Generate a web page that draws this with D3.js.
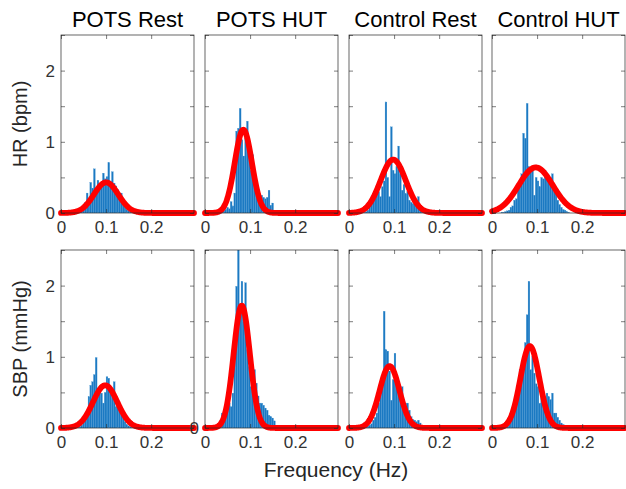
<!DOCTYPE html>
<html>
<head>
<meta charset="utf-8">
<script src="https://cdn.jsdelivr.net/npm/d3@7"></script>
<style>
  body { margin: 0; background: #fff; }
  text { font-family: "Liberation Sans", Arial, sans-serif; }
</style>
</head>
<body>
<script>
// Dados
const conditions = ["POTS Rest", "POTS HUT", "Control Rest", "Control HUT"];
const measures = ["HR (bpm)", "SBP (mmHg)"];
const xTicks = [0, 0.1, 0.2];
const yTicks = [0, 0.5, 1, 1.5, 2, 2.5];
const yTickLabels = [0, 1, 2];

// histogramas: primeira classe em 0.020 Hz, largura 0.004 Hz
const binStart = 0.02;
const binWidth = 0.004;

const hrPotsRest = [0.01,0.01,0.01,0.02,0.02,0.03,0.05,0.08,0.15,0.28,0.2,0.43,0.35,0.62,0.3,0.46,0.38,0.42,0.56,0.48,0.51,0.71,0.45,0.58,0.42,0.38,0.33,0.22,0.28,0.18,0.1,0.05,0.03,0.02,0.01,0.01,0,0,0,0];
const hrPotsHut = [0.01,0.02,0.02,0.02,0.03,0.03,0.05,0.08,0.06,0.16,0.1,0.28,1.15,1.19,1.47,1.03,0.8,1.05,1.29,0.82,0.6,0.82,0.46,0.38,0.32,0.23,0.25,0.22,0.2,0.22,0.32,0.11,0.14,0.04,0.02,0.01,0,0,0,0];
const hrControlRest = [0,0,0.01,0.01,0.02,0.04,0.1,0.18,0.27,0.2,0.39,0.3,0.23,0.37,0.45,1.56,0.5,0.23,1.21,0.6,0.55,0.65,0.94,0.55,0.32,0.4,0.27,0.3,0.18,0.15,0.13,0.12,0.18,0.23,0.11,0.02,0.01,0,0,0];
const hrControlHut = [0.01,0.01,0.02,0.03,0.04,0.08,0.1,0.18,0.2,0.37,0.42,0.55,1.12,1.05,1.54,0.65,0.58,0.6,0.25,0.5,0.45,0.37,0.5,0.48,0.6,0.55,0.46,0.5,0.55,0.3,0.27,0.18,0.12,0.08,0.05,0.04,0.02,0.01,0,0];
const sbpPotsRest = [0,0,0.01,0.01,0.01,0.02,0.04,0.09,0.12,0.16,0.44,0.6,0.65,0.75,0.99,0.44,0.52,0.49,0.35,0.5,0.72,0.7,0.53,0.48,0.65,0.3,0.38,0.35,0.25,0.15,0.09,0.05,0.03,0.02,0.01,0,0,0,0,0];
const sbpPotsHut = [0.04,0.03,0.05,0.1,0.21,0.16,0.3,0.25,0.35,0.3,0.49,1.2,1.99,2.6,1.6,2.06,1.5,2.04,1.1,0.86,0.58,0.49,0.82,0.63,0.45,0.35,0.35,0.32,0.28,0.25,0.18,0.16,0.14,0.1,0.04,0.02,0,0,0,0];
const sbpControlRest = [0,0,0.01,0.01,0.02,0.03,0.04,0.06,0.11,0.15,0.21,0.35,0.63,0.7,1.64,1.1,1.08,0.8,0.39,0.68,1.05,0.63,0.5,0.44,0.58,0.4,0.35,0.35,0.25,0.16,0.12,0.11,0.09,0.11,0.07,0.03,0.01,0,0,0];
const sbpControlHut = [0.01,0.01,0.02,0.03,0.05,0.1,0.16,0.3,0.38,0.54,0.82,0.84,0.98,1.2,1.59,2.06,0.82,1.0,0.77,0.62,0.58,0.35,0.49,0.35,0.42,0.49,0.44,0.4,0.49,0.21,0.21,0.15,0.11,0.07,0.05,0.02,0.01,0,0,0];

// ajuste gaussiano (média, desvio, pico) por painel
const hrFitMean = [0.100, 0.085, 0.098, 0.097];
const hrFitSd = [0.027, 0.019, 0.028, 0.038];
const hrFitPeak = [0.43, 1.17, 0.75, 0.64];
const sbpFitMean = [0.098, 0.0815, 0.090, 0.084];
const sbpFitSd = [0.027, 0.018, 0.022, 0.021];
const sbpFitPeak = [0.60, 1.72, 0.87, 1.15];

const histograms = [
  [hrPotsRest, hrPotsHut, hrControlRest, hrControlHut],
  [sbpPotsRest, sbpPotsHut, sbpControlRest, sbpControlHut]
];
const fits = [
  { mean: hrFitMean, sd: hrFitSd, peak: hrFitPeak },
  { mean: sbpFitMean, sd: sbpFitSd, peak: sbpFitPeak }
];

// Layout
const width = 626;
const height = 489;
const colLeft = [61, 205, 349, 492];
const rowTop = [35, 250];
const panelW = 133;
const panelH = 178;
const axisColor = "#262626";

const svg = d3.select("body")
  .append("svg")
  .attr("width", width)
  .attr("height", height);

const x = d3.scaleLinear().domain([0, 0.295]).range([0, panelW]);
const y = d3.scaleLinear().domain([0, 2.5]).range([panelH, 0]);

svg.append("defs")
  .append("clipPath")
  .attr("id", "clip-panel")
  .append("rect")
  .attr("width", panelW)
  .attr("height", panelH);

const curveX = d3.range(0, 0.2951, 0.001);

const line = d3.line()
  .x(d => x(d[0]))
  .y(d => y(d[1]));

measures.forEach((measure, r) => {
  conditions.forEach((cond, c) => {
    const g = svg.append("g")
      .attr("transform", `translate(${colLeft[c]},${rowTop[r]})`);

    const values = histograms[r][c];
    const bins = values.map((v, i) => ({ x0: binStart + i * binWidth, v: v }));

    // barras
    g.append("g")
      .attr("clip-path", "url(#clip-panel)")
      .selectAll("rect")
      .data(bins)
      .join("rect")
      .attr("x", d => x(d.x0))
      .attr("width", x(binWidth) - x(0))
      .attr("y", d => y(d.v))
      .attr("height", d => y(0) - y(d.v))
      .attr("fill", "#1b79c2")
      .attr("stroke", "#4a98d3")
      .attr("stroke-width", 0.25);

    // curva ajustada
    const m = fits[r].mean[c];
    const s = fits[r].sd[c];
    const p = fits[r].peak[c];
    const pts = curveX.map(f => [f, p * Math.exp(-0.5 * ((f - m) / s) ** 2)]);

    g.append("path")
      .datum(pts)
      .attr("d", line)
      .attr("fill", "none")
      .attr("stroke", "#ff0000")
      .attr("stroke-width", 5.8)
      .attr("stroke-linejoin", "round")
      .attr("stroke-linecap", "round");

    // eixos (ticks para dentro, caixa fechada)
    const bottom = g.append("g")
      .attr("transform", `translate(0,${panelH})`)
      .call(d3.axisBottom(x).tickValues(xTicks).tickSizeInner(-4).tickSizeOuter(0)
        .tickPadding(8).tickFormat(d => String(d)));
    const top = g.append("g")
      .call(d3.axisTop(x).tickValues(xTicks).tickSizeInner(-4).tickSizeOuter(0).tickFormat(""));
    const left = g.append("g")
      .call(d3.axisLeft(y).tickValues(yTicks).tickSizeInner(-4).tickSizeOuter(0)
        .tickPadding(6).tickFormat(d => (c === 0 && yTickLabels.includes(d)) || (r === 1 && c === 1 && d === 0) ? String(d) : ""));
    const right = g.append("g")
      .attr("transform", `translate(${panelW},0)`)
      .call(d3.axisRight(y).tickValues(yTicks).tickSizeInner(-4).tickSizeOuter(0).tickFormat(""));

    [bottom, top, left, right].forEach(a => {
      a.select(".domain").remove();
      a.selectAll("line").attr("stroke", axisColor).attr("stroke-width", 0.6);
      a.selectAll("text")
        .attr("fill", "#333")
        .attr("font-size", 17)
        .attr("font-family", "\"Liberation Sans\", Arial, sans-serif");
    });

    g.append("rect")
      .attr("width", panelW)
      .attr("height", panelH)
      .attr("fill", "none")
      .attr("stroke", axisColor)
      .attr("stroke-width", 0.7);

    if (r === 0) {
      svg.append("text")
        .attr("x", colLeft[c] + panelW / 2)
        .attr("y", 27)
        .attr("text-anchor", "middle")
        .attr("font-size", 22)
        .attr("fill", "#000")
        .text(cond);
    }
  });

  svg.append("text")
    .attr("transform", `translate(27,${rowTop[r] + panelH / 2}) rotate(-90)`)
    .attr("text-anchor", "middle")
    .attr("font-size", 20)
    .attr("fill", "#262626")
    .text(measure);
});

svg.append("text")
  .attr("x", 336)
  .attr("y", 477)
  .attr("text-anchor", "middle")
  .attr("font-size", 21)
  .attr("fill", "#262626")
  .text("Frequency (Hz)");
</script>
</body>
</html>
